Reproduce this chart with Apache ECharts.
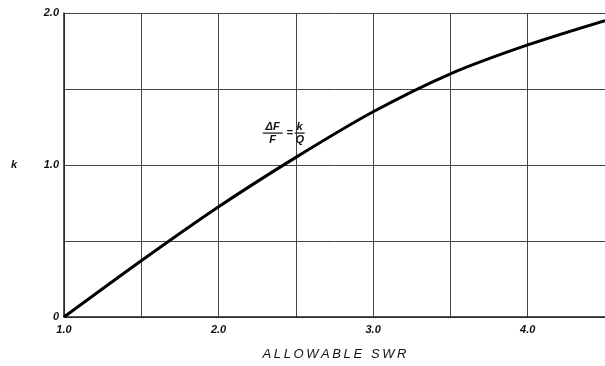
<!DOCTYPE html>
<html><head><meta charset="utf-8">
<script src="https://cdn.jsdelivr.net/npm/echarts@6/dist/echarts.min.js"></script>
<style>html,body{margin:0;padding:0;background:#fff}#c{width:605px;height:366px}</style>
</head><body><div id="c"></div>
<script>
const swr = [1.0, 1.5, 2.0, 2.5, 3.0, 3.5, 4.0, 4.5];
const kValues = [0, 0.37, 0.725, 1.05, 1.35, 1.60, 1.79, 1.95];
const xTickLabels = {1: '1.0', 2: '2.0', 3: '3.0', 4: '4.0'};
const yTickLabels = {0: '0', 1: '1.0', 2: '2.0'};
const xName = 'ALLOWABLE SWR';
const yName = 'k';
const formula = {num1: 'ΔF', den1: 'F', num2: 'k', den2: 'Q', at: [2.35, 1.21]};

const font = '"Liberation Sans", Arial, sans-serif';
const ink = '#111';
const chart = echarts.init(document.getElementById('c'));
chart.setOption({
  animation: false,
  backgroundColor: '#fff',
  grid: {left: 64, top: 13, right: 0, bottom: 44, containLabel: false},
  xAxis: {
    type: 'value', min: 1, max: 4.5, interval: 0.5,
    name: xName.split('').join('\u2009'), nameLocation: 'middle', nameGap: 31,
    nameTextStyle: {fontFamily: font, fontStyle: 'italic', fontSize: 13, color: ink},
    axisLine: {show: true, lineStyle: {color: '#222', width: 1.5}},
    axisTick: {show: false},
    axisLabel: {fontFamily: font, fontStyle: 'italic', fontWeight: 'bold', fontSize: 11, color: ink, margin: 7,
      formatter: v => xTickLabels[v] || '', showMaxLabel: false},
    splitLine: {show: true, lineStyle: {color: '#444', width: 1}}
  },
  yAxis: {
    type: 'value', min: 0, max: 2, interval: 0.5,
    name: yName, nameLocation: 'middle', nameRotate: 0, nameGap: 47,
    nameTextStyle: {fontFamily: font, fontStyle: 'italic', fontWeight: 'bold', fontSize: 11, color: ink},
    axisLine: {show: true, lineStyle: {color: '#222', width: 1.5}},
    axisTick: {show: false},
    axisLabel: {fontFamily: font, fontStyle: 'italic', fontWeight: 'bold', fontSize: 11, color: ink, margin: 5,
      formatter: v => yTickLabels[v] || ''},
    splitLine: {show: true, lineStyle: {color: '#444', width: 1}}
  },
  series: [{
    type: 'line', smooth: 0.3, symbol: 'none',
    data: swr.map((x, i) => [x, kValues[i]]),
    lineStyle: {color: '#000', width: 3}
  }]
});

const p = chart.convertToPixel({gridIndex: 0}, formula.at);
const tf = {fontFamily: font, fontStyle: 'italic', fontWeight: 'bold', fontSize: 11, fill: ink, align: 'center'};
chart.setOption({graphic: [
  {type: 'text', x: p[0], y: p[1] - 1, style: Object.assign({text: formula.num1, verticalAlign: 'bottom'}, tf)},
  {type: 'line', shape: {x1: p[0] - 10, y1: p[1], x2: p[0] + 10, y2: p[1]}, style: {stroke: ink, lineWidth: 1.2}},
  {type: 'text', x: p[0], y: p[1] + 1, style: Object.assign({text: formula.den1, verticalAlign: 'top'}, tf)},
  {type: 'text', x: p[0] + 17, y: p[1], style: Object.assign({text: '=', verticalAlign: 'middle'}, tf)},
  {type: 'text', x: p[0] + 27, y: p[1] - 1, style: Object.assign({text: formula.num2, verticalAlign: 'bottom'}, tf)},
  {type: 'line', shape: {x1: p[0] + 22, y1: p[1], x2: p[0] + 32, y2: p[1]}, style: {stroke: ink, lineWidth: 1.2}},
  {type: 'text', x: p[0] + 27, y: p[1] + 1, style: Object.assign({text: formula.den2, verticalAlign: 'top'}, tf)}
]});
</script></body></html>
